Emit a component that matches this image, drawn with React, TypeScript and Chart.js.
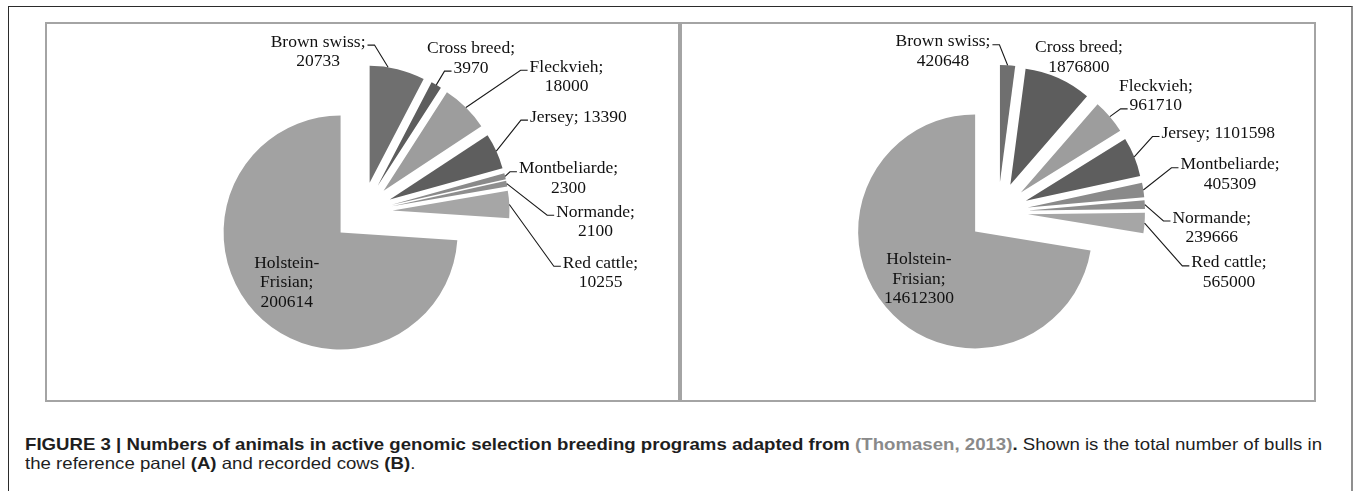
import React, { useEffect, useLayoutEffect, useRef } from "react";
import { Chart, registerables } from "chart.js";

Chart.register(...registerables);

// ---------- data ----------
const categories = [
  "Brown swiss",
  "Cross breed",
  "Fleckvieh",
  "Jersey",
  "Montbeliarde",
  "Normande",
  "Red cattle",
  "Holstein-Frisian",
];
const bullsValues = [20733, 3970, 18000, 13390, 2300, 2100, 10255, 200614];
const cowsValues = [420648, 1876800, 961710, 1101598, 405309, 239666, 565000, 14612300];
const sliceColors = [
  "#6f6f6f",
  "#5d5d5d",
  "#9d9d9d",
  "#5e5e5e",
  "#8a8a8a",
  "#8e8e8e",
  "#a6a6a6",
  "#a2a2a2",
];

// ---------- label layout (style, not data) ----------
type LabelSpec = {
  lines: number;
  dx?: number;
  dy?: number;
  side?: "l" | "r" | "none";
  line?: number;
  frac?: number;
  inside?: number;
};

const bullsLayout: LabelSpec[] = [
  { lines: 2, dx: -70, dy: -15.5, side: "r", line: 0, frac: 0.33 },
  { lines: 2, dx: 34.7, dy: -26.5, side: "l", line: 1 },
  { lines: 2, dx: 100.6, dy: -30.5, side: "l", line: 0 },
  { lines: 1, dx: 82, dy: -34, side: "l", line: 0 },
  { lines: 2, dx: 63.4, dy: 2.2, side: "l", line: 0 },
  { lines: 2, dx: 88.8, dy: 38.4, side: "l", line: 0 },
  { lines: 2, dx: 91.2, dy: 68.6, side: "l", line: 0 },
  { lines: 3, inside: 0.63 },
];

const cowsLayout: LabelSpec[] = [
  { lines: 2, dx: -64.6, dy: -13.8, side: "r", line: 0 },
  { lines: 2, dx: 20.6, dy: -20.5, side: "none" },
  { lines: 2, dx: 46, dy: -20.5, side: "l", line: 1 },
  { lines: 1, dx: 84, dy: -23.3, side: "l", line: 0 },
  { lines: 2, dx: 86.7, dy: -15.5, side: "l", line: 0 },
  { lines: 2, dx: 67, dy: 23, side: "l", line: 0 },
  { lines: 2, dx: 84.4, dy: 49.5, side: "l", line: 0 },
  { lines: 3, inside: 0.63 },
];

const EXPLODE = 30;
const PIE_RADIUS = 117;
const LABEL_FONT = '17.5px "Liberation Serif", "Times New Roman", serif';
const LINE_H = 19.5;

function labelLines(name: string, value: number, n: number): string[] {
  if (n === 1) return [`${name}; ${value}`];
  if (n === 3) {
    const k = name.indexOf("-");
    return [name.slice(0, k + 1), name.slice(k + 1) + ";", String(value)];
  }
  return [`${name};`, String(value)];
}

const explodePlugin = {
  id: "explodeSlices",
  beforeDatasetDraw(chart: any, args: any) {
    const ctx = chart.ctx;
    args.meta.data.forEach((arc: any) => {
      const { startAngle, endAngle } = arc.getProps(["startAngle", "endAngle"], true);
      const mid = (startAngle + endAngle) / 2;
      ctx.save();
      ctx.translate(Math.cos(mid) * EXPLODE, Math.sin(mid) * EXPLODE);
      arc.draw(ctx);
      ctx.restore();
    });
    return false;
  },
};

const labelPlugin = {
  id: "pieLabels",
  afterDatasetsDraw(chart: any, _args: any, opts: any) {
    const ctx = chart.ctx;
    const layout: LabelSpec[] = opts.layout;
    const meta = chart.getDatasetMeta(0);
    const values: number[] = chart.data.datasets[0].data;
    const names: string[] = chart.data.labels;
    ctx.save();
    ctx.font = LABEL_FONT;
    ctx.fillStyle = "#111";
    ctx.strokeStyle = "#1a1a1a";
    ctx.lineWidth = 1.1;
    ctx.textAlign = "center";
    ctx.textBaseline = "middle";
    meta.data.forEach((arc: any, i: number) => {
      const spec = layout[i];
      const { x, y, startAngle, endAngle, outerRadius } = arc.getProps(
        ["x", "y", "startAngle", "endAngle", "outerRadius"],
        true
      );
      const lines = labelLines(names[i], values[i], spec.lines);
      const mid = (startAngle + endAngle) / 2;
      let cx: number;
      let cy: number;
      let ax = 0;
      let ay = 0;
      if (spec.inside !== undefined) {
        const px = x + Math.cos(mid) * EXPLODE;
        const py = y + Math.sin(mid) * EXPLODE;
        cx = px + Math.cos(mid) * outerRadius * spec.inside;
        cy = py + Math.sin(mid) * outerRadius * spec.inside;
      } else {
        const frac = spec.frac ?? 0.5;
        const ang = startAngle + (endAngle - startAngle) * frac;
        ax = x + Math.cos(mid) * EXPLODE + Math.cos(ang) * outerRadius;
        ay = y + Math.sin(mid) * EXPLODE + Math.sin(ang) * outerRadius;
        cx = ax + (spec.dx || 0);
        cy = ay + (spec.dy || 0);
      }
      const n = lines.length;
      lines.forEach((t, k) => {
        ctx.fillText(t, cx, cy + (k - (n - 1) / 2) * LINE_H);
      });
      if (spec.inside === undefined && spec.side && spec.side !== "none") {
        const li = spec.line || 0;
        const ly = cy + (li - (n - 1) / 2) * LINE_H + 3;
        const w = ctx.measureText(lines[li]).width;
        let tx0: number;
        let tx1: number;
        if (spec.side === "l") {
          tx0 = cx - w / 2 - 2;
          tx1 = tx0 - 7;
        } else {
          tx0 = cx + w / 2 + 2;
          tx1 = tx0 + 7;
        }
        ctx.beginPath();
        ctx.moveTo(tx0, ly);
        ctx.lineTo(tx1, ly);
        ctx.lineTo(ax, ay);
        ctx.stroke();
      }
    });
    ctx.restore();
  },
};

function PiePanel({
  values,
  layout,
  left,
  width,
}: {
  values: number[];
  layout: LabelSpec[];
  left: number;
  width: number;
}) {
  const ref = useRef<HTMLCanvasElement | null>(null);
  const innerW = width - 4;
  const innerH = 376;
  useEffect(() => {
    if (!ref.current) return;
    const chart = new Chart(ref.current, {
      type: "pie",
      data: {
        labels: categories,
        datasets: [
          {
            data: values,
            backgroundColor: sliceColors,
            borderWidth: 0,
            radius: PIE_RADIUS,
          } as any,
        ],
      },
      options: {
        animation: false,
        responsive: false,
        events: [],
        layout: { padding: 0 },
        plugins: {
          legend: { display: false },
          tooltip: { enabled: false },
          pieLabels: { layout },
        } as any,
      },
      plugins: [explodePlugin, labelPlugin],
    });
    return () => chart.destroy();
  }, [values, layout]);
  return (
    <div
      style={{
        position: "absolute",
        left,
        top: 22,
        width,
        height: 380,
        boxSizing: "border-box",
        border: "2px solid #a4a4a4",
        background: "#fff",
      }}
    >
      <canvas
        ref={ref}
        width={innerW}
        height={innerH}
        style={{ display: "block", width: innerW, height: innerH }}
      />
    </div>
  );
}

export default function App() {
  const l1 = useRef<HTMLDivElement | null>(null);
  const l2 = useRef<HTMLDivElement | null>(null);
  useLayoutEffect(() => {
    if (!l1.current || !l2.current) return;
    const w = l1.current.offsetWidth;
    const s = 1297 / w;
    l1.current.style.transform = `scaleX(${s})`;
    l2.current.style.transform = `scaleX(${s})`;
  }, []);
  const capStyle: React.CSSProperties = {
    position: "absolute",
    left: 25,
    whiteSpace: "nowrap",
    fontFamily: '"Liberation Sans", Arial, sans-serif',
    fontSize: 16.5,
    lineHeight: "19px",
    color: "#1e1e1e",
    transformOrigin: "0 0",
    display: "inline-block",
  };
  return (
    <div
      style={{
        position: "absolute",
        left: 0,
        top: 0,
        width: 1354,
        height: 491,
        overflow: "hidden",
        background: "#fff",
      }}
    >
      <div
        style={{
          position: "absolute",
          left: 8,
          top: 6,
          width: 1345,
          height: 485,
          boxSizing: "border-box",
          borderTop: "1.5px solid #2b2b2b",
          borderLeft: "1.5px solid #2b2b2b",
          borderRight: "2px solid #8f8f8f",
        }}
      />
      <PiePanel values={bullsValues} layout={bullsLayout} left={45} width={635} />
      <PiePanel values={cowsValues} layout={cowsLayout} left={680} width={636} />
      <div ref={l1} style={{ ...capStyle, top: 435 }}>
        <b>FIGURE 3 | Numbers of animals in active genomic selection breeding programs adapted from </b>
        <b style={{ color: "#8a8a8a" }}>(Thomasen, 2013)</b>
        <b>.</b> Shown is the total number of bulls in
      </div>
      <div ref={l2} style={{ ...capStyle, top: 454 }}>
        the reference panel <b>(A)</b> and recorded cows <b>(B)</b>.
      </div>
    </div>
  );
}
